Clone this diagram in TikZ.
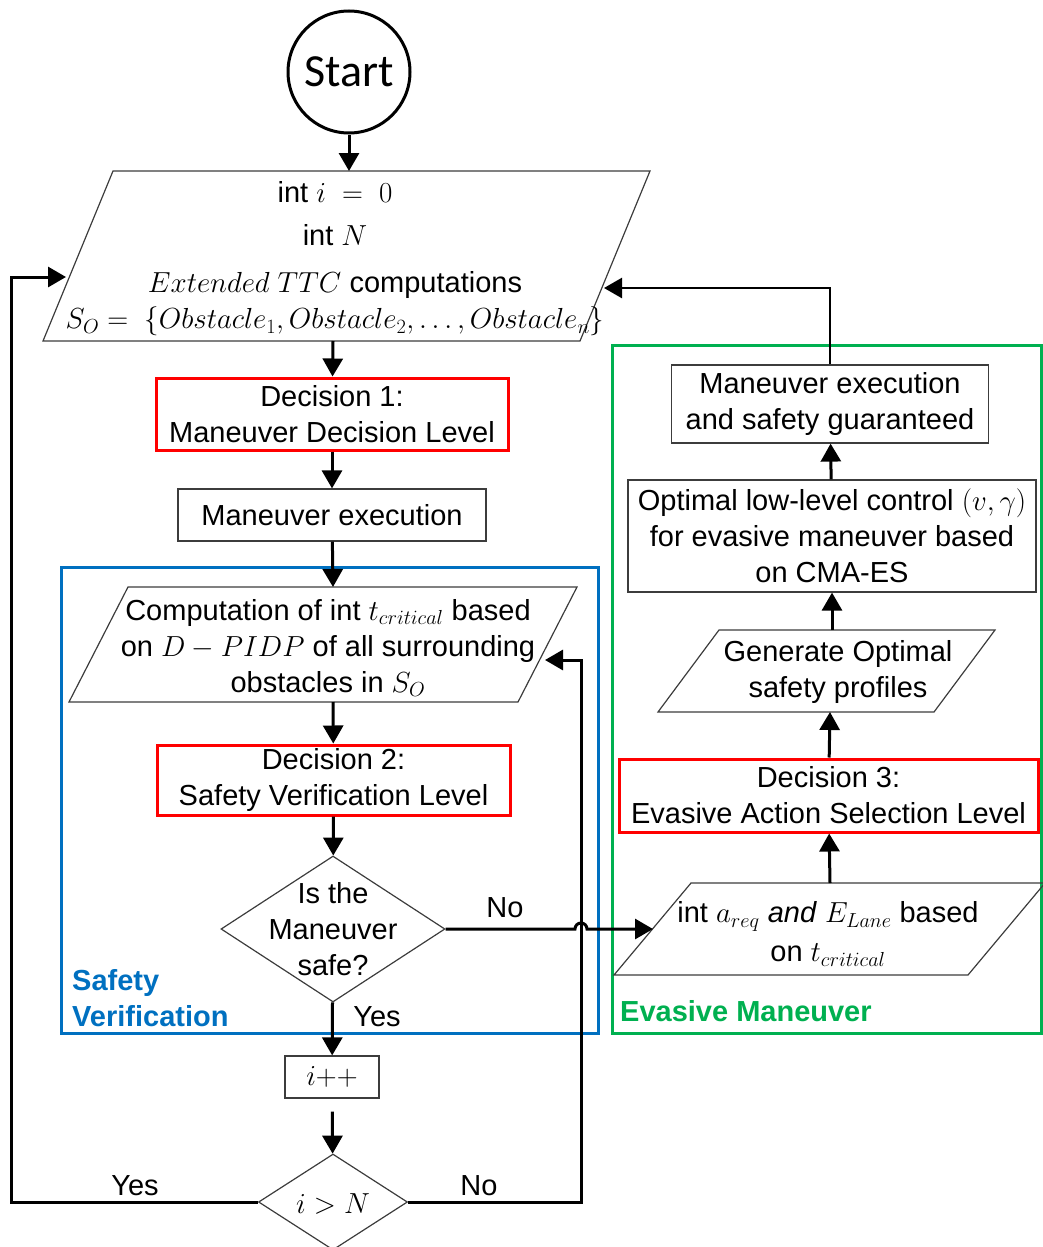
\RequirePackage{fix-cm}
\documentclass[tikz,border=0pt]{standalone}
\usepackage{fontspec}
\setmainfont{Liberation Sans}
\newfontfamily\startfont{Carlito}
\usepackage{graphicx}
\usetikzlibrary{arrows.meta,shapes.geometric}
\definecolor{myred}{RGB}{255,0,0}
\definecolor{myblue}{RGB}{0,112,192}
\definecolor{mygreen}{RGB}{0,176,80}
\definecolor{edgegray}{RGB}{60,60,60}
\begin{document}
\begin{tikzpicture}[x=1pt,y=-1pt,
  every node/.style={inner sep=0pt, font=\fontsize{29}{36}\selectfont, align=center},
  thinbox/.style={draw=edgegray, line width=1.2pt, rectangle},
  redbox/.style={draw=myred, line width=3pt, rectangle},
  para/.style={draw=edgegray, line width=1.2pt},
  decis/.style={diamond, draw=edgegray, line width=1.2pt},
  conn/.style={line width=3pt, -{Triangle[length=18pt,width=20pt]}},
  wire/.style={line width=3pt},
  region/.style={line width=3pt},
  regionlabel/.style={font=\fontsize{29}{36}\selectfont\bfseries, align=left, anchor=west},
]
\useasboundingbox (0,0) rectangle (1043,1247);

% regions
\draw[region, draw=myblue] (61,567) rectangle (598,1033);
\draw[region, draw=mygreen] (612,345) rectangle (1041,1033);
\node[regionlabel, text=myblue] (svlabel) at (72,998) {Safety\\Verification};
\node[regionlabel, text=mygreen] (emlabel) at (620,1011) {Evasive Maneuver};

% start
\node[circle, draw, line width=3pt, minimum size=122pt, font=\startfont\fontsize{46}{50}\selectfont] (start) at (349,72) {Start};

% parallelogram 1
\coordinate (p1tl) at (113,171);
\coordinate (p1tr) at (650,171);
\coordinate (p1br) at (580,341);
\coordinate (p1bl) at (43,341);
\coordinate (p1top) at (349,171);
\coordinate (p1bot) at (333,341);
\coordinate (p1L) at (66,277);
\coordinate (p1R) at (604,288);
\draw[para] (p1tl) -- (p1tr) -- (p1br) -- (p1bl) -- cycle;
\node (p1text) at (335,259) {int $i\ =\ 0$\\[7pt] int $N$\\[11pt] $Extended\ TTC$ computations\\ $S_O =\ \{Obstacle_1,Obstacle_2,\ldots,Obstacle_n\}$};

% left column
\node[redbox, minimum width=352pt, minimum height=72pt] (dec1) at (332,414) {Decision 1:\\Maneuver Decision Level};
\node[thinbox, minimum width=308pt, minimum height=52pt] (mex) at (332,515) {Maneuver execution};

\coordinate (p2tl) at (128,587);
\coordinate (p2tr) at (577,587);
\coordinate (p2br) at (518,702);
\coordinate (p2bl) at (69,702);
\coordinate (p2top) at (333,587);
\coordinate (p2bot) at (333,702);
\coordinate (p2R) at (545,660);
\draw[para] (p2tl) -- (p2tr) -- (p2br) -- (p2bl) -- cycle;
\node (p2text) at (328,648) {Computation of int $t_{critical}$ based\\on $D-PIDP$ of all surrounding\\obstacles in $S_O$};

\node[redbox, minimum width=353pt, minimum height=70pt] (dec2) at (333.5,780) {Decision 2:\\Safety Verification Level};
\node[decis, minimum width=224pt, minimum height=146pt] (d1) at (333,929) {};
\node (d1text) at (333,929) {Is the\\Maneuver\\safe?};
\node[thinbox, minimum width=94pt, minimum height=42pt] (ipp) at (332,1077) {$i{+}{+}$};
\node[decis, minimum width=149pt, minimum height=96pt] (d2) at (333,1202) {};
\node (d2text) at (333,1204) {$i>N$};

% right column
\node[thinbox, minimum width=317pt, minimum height=78pt] (ms) at (830,404) {Maneuver execution\\and safety guaranteed};
\node[thinbox, minimum width=408pt, minimum height=112pt] (opt) at (832,536) {Optimal low-level control $(v,\gamma)$\\for evasive maneuver based\\on CMA-ES};

\coordinate (p3tl) at (719,630);
\coordinate (p3tr) at (995,630);
\coordinate (p3br) at (934,712);
\coordinate (p3bl) at (658,712);
\coordinate (p3top) at (832,630);
\coordinate (p3bot) at (830,712);
\draw[para] (p3tl) -- (p3tr) -- (p3br) -- (p3bl) -- cycle;
\node (p3text) at (838,672) {Generate Optimal\\safety profiles};

\node[redbox, minimum width=419pt, minimum height=73pt] (dec3) at (828.5,795.5) {Decision 3:\\Evasive Action Selection Level};

\coordinate (p4tl) at (691,883);
\coordinate (p4tr) at (1045,883);
\coordinate (p4br) at (968,975);
\coordinate (p4bl) at (614,975);
\coordinate (p4top) at (830,883);
\coordinate (p4L) at (653,929);
\draw[para] (p4tl) -- (p4tr) -- (p4br) -- (p4bl) -- cycle;
\node (p4text) at (828,934) {int $a_{req}$ \textit{and} $E_{Lane}$ based\\[3pt]on $t_{critical}$};

% rails
\coordinate (leftrail) at (11,0);
\coordinate (rightrail) at (581,0);
\coordinate (jumpA) at (575,929);

% connectors
\draw[conn] (start) -- (p1top);
\draw[conn] (p1bot) -- (dec1);
\draw[conn] (dec1) -- (mex);
\draw[conn] (mex) -- (p2top);
\draw[conn] (p2bot) -- (dec2);
\draw[conn] (dec2) -- (d1);
\draw[conn] (d1) -- (ipp);
\draw[conn, shorten <=13pt] (ipp) -- (d2);
\draw[conn] (d2.west) -- (d2.west -| leftrail) |- (p1L);
\draw[conn] (d2.east) -- (d2.east -| rightrail) |- (p2R);
\draw[conn] (d1.east) -- (jumpA) arc (180:360:6) -- (p4L);
\draw[conn] (p4top) -- (dec3);
\draw[conn] (dec3) -- (p3bot);
\draw[conn] (p3top) -- (opt);
\draw[conn] (opt) -- (ms);
\draw[conn, line width=2.5pt] (ms.north) |- (p1R);

% labels
\node (no1) at (505,908) {No};
\node (yes1) at (377,1017) {Yes};
\node (yes2) at (135,1186) {Yes};
\node (no2) at (479,1186) {No};
\end{tikzpicture}
\end{document}
